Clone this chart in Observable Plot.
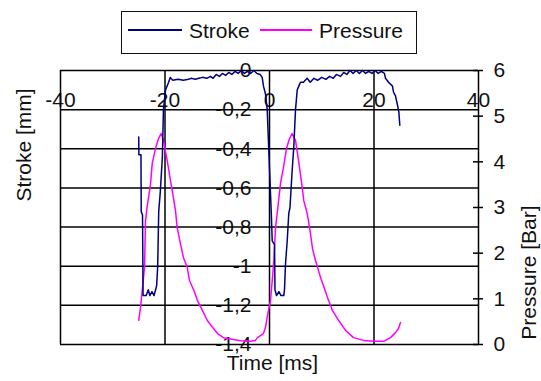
<!DOCTYPE html>
<html><head><meta charset="utf-8">
<script src="https://cdn.jsdelivr.net/npm/d3@7"></script>
<script src="https://cdn.jsdelivr.net/npm/@observablehq/plot@0.6"></script>
<style>
body{margin:0;background:#fff;font-family:"Liberation Sans",Arial,sans-serif;}
#legend{position:relative;height:60px;width:541px}
#box{position:absolute;left:121px;top:11px;width:294px;height:41px;border:1.5px solid #111;}
.sw{position:absolute;top:17px;height:2px}
.lb{position:absolute;top:7px;font-size:21px;line-height:24px;color:#111;white-space:nowrap}
#chart svg{display:block}
</style></head>
<body>
<div id="legend"><div id="box"></div></div>
<div id="chart"></div>
<script>
const seriesNames = ["Stroke", "Pressure"];
const seriesColors = ["#000080", "#ff00ff"];
const timeTicks = [-40, -20, 0, 20, 40];
const strokeTicks = [0, -0.2, -0.4, -0.6, -0.8, -1, -1.2, -1.4];
const pressureTicks = [0, 1, 2, 3, 4, 5, 6];

// [time ms, stroke mm]
const strokePoints = [
[-25.03,-0.34],[-25.0,-0.43],[-24.6,-0.43],[-24.55,-0.72],[-24.3,-0.74],[-24.2,-1.15],
[-23.6,-1.15],[-23.2,-1.12],[-22.9,-1.15],[-22.5,-1.13],[-22.1,-1.15],[-21.8,-1.12],
[-21.6,-1.10],[-21.4,-1.0],[-21.2,-0.72],[-20.9,-0.62],[-20.5,-0.44],[-20.3,-0.2],
[-19.9,-0.1],[-19.3,-0.06],[-19.0,-0.036],[-18.5,-0.05],[-17.5,-0.045],[-16.5,-0.05],
[-15.5,-0.045],[-15.0,-0.04],[-14.2,-0.045],[-13.5,-0.04],[-12.8,-0.035],[-12.0,-0.04],
[-11.3,-0.03],[-10.8,-0.04],[-10.2,-0.02],[-9.6,-0.03],[-9.0,-0.015],[-8.4,-0.025],
[-7.8,-0.01],[-7.2,-0.02],[-6.6,-0.005],[-6.0,-0.015],[-5.4,0],[-4.8,-0.015],
[-4.2,-0.005],[-3.6,-0.015],[-3.0,0],[-2.4,-0.015],[-1.8,-0.02],[-1.4,-0.035],
[-1.15,-0.08],[-0.77,-0.12],[-0.44,-0.2],[-0.13,-0.41],[0.33,-0.72],[0.52,-0.87],
[0.96,-0.89],[1.05,-1.12],[1.34,-1.15],[1.8,-1.13],[2.2,-1.15],[2.74,-1.15],
[2.87,-1.12],[3.06,-0.99],[3.39,-0.87],[3.69,-0.73],[3.92,-0.70],[4.34,-0.51],
[4.65,-0.39],[4.98,-0.2],[5.3,-0.1],[5.61,-0.08],[5.93,-0.06],[6.5,-0.06],
[7.2,-0.04],[7.8,-0.06],[8.5,-0.04],[9.2,-0.05],[10.0,-0.035],[10.8,-0.045],
[11.5,-0.03],[12.2,-0.04],[12.8,-0.02],[13.6,-0.03],[14.2,-0.01],[14.8,-0.02],
[15.4,0],[16.0,-0.015],[16.6,0],[17.2,-0.015],[17.8,0],[18.4,-0.015],[19.0,-0.005],
[19.6,-0.015],[20.2,0],[20.8,-0.015],[21.4,-0.005],[22.0,-0.015],[22.2,-0.04],
[22.78,-0.06],[23.54,-0.08],[23.73,-0.11],[24.11,-0.13],[24.44,-0.17],[24.75,-0.21],
[24.94,-0.28]
];

// [time ms, pressure bar]
const pressurePoints = [
[-25.03,0.53],[-24.69,0.81],[-24.36,1.18],[-23.92,1.69],[-23.73,2.7],[-23.44,3.0],
[-22.78,3.5],[-22.45,3.96],[-21.82,4.29],[-21.24,4.51],[-20.73,4.62],[-20.29,4.47],
[-19.58,4.03],[-18.95,3.59],[-18.37,3.2],[-17.99,2.93],[-17.67,2.56],[-17.03,2.2],
[-16.46,1.9],[-15.75,1.69],[-15.31,1.4],[-14.35,1.15],[-13.78,0.96],[-12.82,0.74],
[-11.87,0.52],[-10.72,0.35],[-9.95,0.24],[-8.8,0.15],[-7.46,0.12],[-5.55,0.08],
[-3.6,0.07],[-2.7,0.09],[-2.3,0.15],[-1.15,0.24],[-0.77,0.37],[-0.38,0.64],
[0.19,0.96],[0.52,1.4],[0.83,1.84],[1.15,2.56],[1.6,3.0],[2.11,3.53],[2.68,3.88],
[3.25,4.29],[3.83,4.51],[4.34,4.62],[4.98,4.47],[5.55,4.03],[6.26,3.44],[6.56,3.15],
[7.22,2.87],[7.85,2.43],[8.23,2.1],[8.8,1.84],[9.76,1.47],[11.1,1.03],[12.06,0.74],
[13.21,0.53],[14.55,0.31],[16.08,0.15],[17.99,0.09],[19.9,0.07],[21.82,0.07],
[23.16,0.15],[24.11,0.26],[24.69,0.35],[25.07,0.48]
];

// legend
const box = document.getElementById("box");
const legendPos = [{sw: 6, w: 54, lb: 67}, {sw: 138, w: 52, lb: 197}];
seriesNames.forEach((name, i) => {
  const s = document.createElement("span");
  s.className = "sw";
  s.style.left = legendPos[i].sw + "px";
  s.style.width = legendPos[i].w + "px";
  s.style.background = seriesColors[i];
  box.appendChild(s);
  const l = document.createElement("span");
  l.className = "lb";
  l.style.left = legendPos[i].lb + "px";
  l.textContent = name;
  box.appendChild(l);
});

const strokeData = strokePoints.map(([t, v]) => ({t, v}));
const pressureData = pressurePoints.map(([t, p]) => ({t, p}));
const pMax = 6, sMin = -1.4;
const toY = p => sMin + (p / pMax) * (0 - sMin);
const fmt = d => d === 0 ? "0" : String(d).replace(".", ",");

const chart = Plot.plot({
  width: 541, height: 321,
  marginTop: 10, marginBottom: 37, marginLeft: 60, marginRight: 63,
  x: {domain: [-40, 40], axis: null},
  y: {domain: [-1.4, 0], axis: null},
  style: {fontFamily: '"Liberation Sans", Arial, sans-serif', fontSize: "21px", color: "#111", background: "#fff", overflow: "visible"},
  marks: [
    Plot.text(strokeTicks, {x: 0, y: d => d, text: fmt, textAnchor: "end", dx: -18, fill: "#111"}),
    Plot.text(timeTicks, {x: d => d, y: 0, text: d => String(d), dy: 30, fill: "#111"}),
    Plot.ruleX(timeTicks, {stroke: "#000", strokeWidth: 1.5}),
    Plot.ruleY(strokeTicks, {stroke: "#000", strokeWidth: 1.5}),
    Plot.ruleY(pressureTicks, {y: toY, x1: 40, x2: 40, insetLeft: -5, insetRight: -5, stroke: "#000", strokeWidth: 1.5}),
    Plot.text(pressureTicks, {x: 40, y: toY, text: d => String(d), textAnchor: "start", dx: 15, fill: "#111"}),
    Plot.line(pressureData, {x: "t", y: d => toY(d.p), stroke: seriesColors[1], strokeWidth: 1.5}),
    Plot.line(strokeData, {x: "t", y: "v", stroke: seriesColors[0], strokeWidth: 1.5}),
    Plot.text(["Time [ms]"], {frameAnchor: "bottom", text: d => d, dx: 3, dy: 25.5, fill: "#111"}),
    Plot.text(["Stroke [mm]"], {frameAnchor: "left", text: d => d, rotate: -90, dx: -36.5, dy: -6, fill: "#111"}),
    Plot.text(["Pressure [Bar]"], {frameAnchor: "right", text: d => d, rotate: -90, dx: 51, dy: -2, fill: "#111"})
  ]
});
document.getElementById("chart").appendChild(chart);
</script>
</body></html>
